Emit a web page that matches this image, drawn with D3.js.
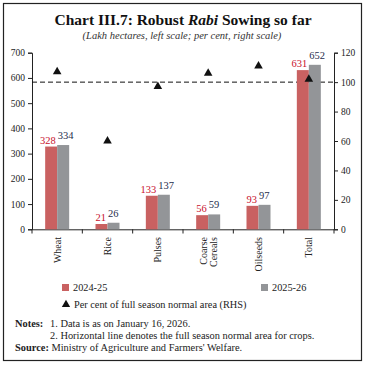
<!DOCTYPE html>
<html><head><meta charset="utf-8">
<script src="https://cdn.jsdelivr.net/npm/d3@7"></script>
<style>body{margin:0;background:#fff}svg{display:block}</style>
</head><body>
<svg id="c" width="367" height="365"></svg>
<script>
const categories = ["Wheat","Rice","Pulses","Coarse Cereals","Oilseeds","Total"];
const catLines = [["Wheat"],["Rice"],["Pulses"],["Coarse","Cereals"],["Oilseeds"],["Total"]];
const area2024 = [328,21,133,56,93,631];
const area2025 = [334,26,137,59,97,652];
const pctNormal = [107,60,97,106,111,102];
const leftTicks = [0,100,200,300,400,500,600,700];
const rightTicks = [0,20,40,60,80,100,120];
const normalLine = 100;

const svg = d3.select("#c");
const F = "Liberation Serif";
const red = "#c96161", grey = "#939598";
const redTxt = "#c8102e", blueTxt = "#1f2d4d";

svg.append("rect").attr("x",3.5).attr("y",3.5).attr("width",358).attr("height",357)
  .attr("fill","none").attr("stroke","#222").attr("stroke-width",1.2);

svg.append("text").attr("x",183).attr("y",25).attr("text-anchor","middle")
  .attr("font-family",F).attr("font-size",15.5).attr("font-weight","bold").attr("fill","#111")
  .call(t=>{t.append("tspan").text("Chart III.7: Robust ");
            t.append("tspan").attr("font-style","italic").text("Rabi");
            t.append("tspan").text(" Sowing so far");});
svg.append("text").attr("x",182).attr("y",39).attr("text-anchor","middle")
  .attr("font-family",F).attr("font-size",10.5).attr("font-style","italic").attr("fill","#333")
  .text("(Lakh hectares, left scale; per cent, right scale)");

const x0 = d3.scaleBand().domain(categories).range([32,334]).padding(0);
const yL = d3.scaleLinear().domain([0,700]).range([229.3,52.7]);
const yR = d3.scaleLinear().domain([0,120]).range([229.3,52.7]);
const bw = 12;

const axL = svg.append("g").attr("transform","translate(32,0)")
  .call(d3.axisLeft(yL).tickValues(leftTicks).tickSize(4).tickPadding(3));
const axR = svg.append("g").attr("transform","translate(334,0)")
  .call(d3.axisRight(yR).tickValues(rightTicks).tickSize(4).tickPadding(3));
const axB = svg.append("g").attr("transform","translate(0,229.3)")
  .call(d3.axisBottom(x0).tickValues([]).tickSizeOuter(0));
[axL,axR].forEach(a=>{a.selectAll("text").attr("font-family",F).attr("font-size",9.5).attr("fill","#222");
  a.selectAll("line,path").attr("stroke","#222");});
axB.select("path").attr("stroke","#222");
const edges = categories.map(c=>x0(c)).concat([x0.range()[1]]);
svg.append("g").selectAll("line").data(edges).join("line")
  .attr("x1",d=>d).attr("x2",d=>d).attr("y1",229.3).attr("y2",233.5).attr("stroke","#222");

svg.append("line").attr("x1",32).attr("x2",334).attr("y1",yR(normalLine)).attr("y2",yR(normalLine))
  .attr("stroke","#111").attr("stroke-dasharray","5,3").attr("stroke-width",1);

const g = svg.append("g");
categories.forEach((c,i)=>{
  const cx = x0(c)+x0.bandwidth()/2;
  g.append("rect").attr("x",cx-bw).attr("y",yL(area2024[i])).attr("width",bw)
    .attr("height",yL(0)-yL(area2024[i])).attr("fill",red);
  g.append("rect").attr("x",cx).attr("y",yL(area2025[i])).attr("width",bw)
    .attr("height",yL(0)-yL(area2025[i])).attr("fill",grey);
  g.append("text").attr("x",cx-1.5).attr("y",yL(area2024[i])-3).attr("text-anchor","end")
    .attr("font-family",F).attr("font-size",10.5).attr("fill",redTxt).text(area2024[i]);
  g.append("text").attr("x",cx+0.5).attr("y",yL(area2025[i])-6).attr("text-anchor","start")
    .attr("font-family",F).attr("font-size",10.5).attr("fill",blueTxt).text(area2025[i]);
  g.append("path").attr("d",d3.symbol(d3.symbolTriangle,32)())
    .attr("transform",`translate(${cx},${yR(pctNormal[i])})`).attr("fill","#111");
  const lines = catLines[i];
  lines.forEach((l,j)=>{
    const lx = cx + (j-(lines.length-1)/2)*10 + 3.5;
    g.append("text").attr("transform",`translate(${lx},237) rotate(-90)`)
      .attr("text-anchor","end").attr("font-family",F).attr("font-size",10).attr("fill","#222").text(l);
  });
});

const lg = svg.append("g").attr("font-family",F).attr("font-size",10.3).attr("fill","#222");
lg.append("rect").attr("x",62).attr("y",284).attr("width",7).attr("height",7).attr("fill",red);
lg.append("text").attr("x",73).attr("y",291).text("2024-25");
lg.append("rect").attr("x",261).attr("y",284).attr("width",7).attr("height",7).attr("fill",grey);
lg.append("text").attr("x",272).attr("y",291).text("2025-26");
lg.append("path").attr("d",d3.symbol(d3.symbolTriangle,30)()).attr("transform","translate(66,304.5)").attr("fill","#111");
lg.append("text").attr("x",74).attr("y",307.5).text("Per cent of full season normal area (RHS)");

const nt = svg.append("g").attr("font-family",F).attr("font-size",10.4).attr("fill","#222");
nt.append("text").attr("x",15).attr("y",327).attr("font-weight","bold").text("Notes:");
nt.append("text").attr("x",50).attr("y",327).text("1. Data is as on January 16, 2026.");
nt.append("text").attr("x",50).attr("y",339).text("2. Horizontal line denotes the full season normal area for crops.");
nt.append("text").attr("x",15).attr("y",351).call(t=>{
  t.append("tspan").attr("font-weight","bold").text("Source:");
  t.append("tspan").text(" Ministry of Agriculture and Farmers' Welfare.");});
</script>
</body></html>
